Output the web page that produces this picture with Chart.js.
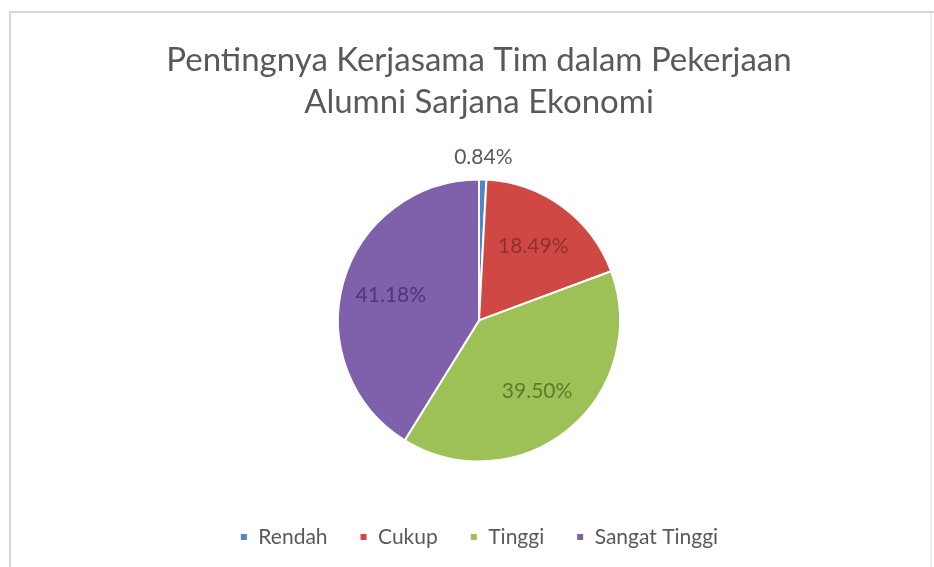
<!DOCTYPE html>
<html>
<head>
<meta charset="utf-8">
<title>Pentingnya Kerjasama Tim</title>
<script src="https://cdn.jsdelivr.net/npm/chart.js@4/dist/chart.umd.min.js"></script>
<style>
    html, body { margin: 0; padding: 0; background: #ffffff; }
    #chartBox { width: 934px; height: 567px; }
</style>
</head>
<body>
<div id="chartBox"><canvas id="teamworkChart" width="934" height="567"></canvas></div>
<script>
// Survey answers, share of respondents in percent
const categories = ['Rendah', 'Cukup', 'Tinggi', 'Sangat Tinggi'];
const shares = [0.84, 18.49, 39.50, 41.18];
const titleLines = ['Pentingnya Kerjasama Tim dalam Pekerjaan', 'Alumni Sarjana Ekonomi'];

const sliceColors = ['#4f85c8', '#d04843', '#9dc157', '#7e60ab'];
const labelColors = ['#595959', '#8e302d', '#5b7b2c', '#4c3875'];

/**
 * Light grey frame around the chart
 */
const framePlugin = {
    id: 'frame',
    beforeDraw(chart) {
        const ctx = chart.ctx;
        ctx.save();
        ctx.fillStyle = '#ffffff';
        ctx.fillRect(0, 0, chart.width, chart.height);
        ctx.lineWidth = 2;
        ctx.strokeStyle = '#d6d6d6';
        ctx.beginPath();
        ctx.moveTo(10, chart.height);
        ctx.lineTo(10, 12);
        ctx.lineTo(chart.width, 12);
        ctx.stroke();
        // right edge is barely visible
        ctx.strokeStyle = '#f0f0f0';
        ctx.beginPath();
        ctx.moveTo(931, 13);
        ctx.lineTo(931, chart.height);
        ctx.stroke();
        ctx.restore();
    }
};

/**
 * Percentage labels on the slices, tiny slices get their label outside
 */
const sliceLabelPlugin = {
    id: 'sliceLabels',
    afterDatasetsDraw(chart) {
        const ctx = chart.ctx;
        const arcs = chart.getDatasetMeta(0).data;
        ctx.save();
        ctx.font = '21px Lato';
        ctx.textAlign = 'center';
        ctx.textBaseline = 'middle';
        arcs.forEach((arc, i) => {
            const {x, y, startAngle, endAngle, outerRadius} = arc.getProps(['x', 'y', 'startAngle', 'endAngle', 'outerRadius'], true);
            const mid = (startAngle + endAngle) / 2;
            const dist = shares[i] < 5 ? outerRadius + 22 : outerRadius * 0.65;
            ctx.fillStyle = labelColors[i];
            ctx.fillText(shares[i].toFixed(2) + '%', x + Math.cos(mid) * dist, y + Math.sin(mid) * dist);
        });
        ctx.restore();
    }
};

const ctx = document.getElementById('teamworkChart');

new Chart(ctx, {
    type: 'pie',
    data: {
        labels: categories,
        datasets: [{
            data: shares,
            backgroundColor: sliceColors,
            borderColor: '#ffffff',
            borderWidth: 2,
            radius: 141
        }]
    },
    options: {
        responsive: false,
        animation: false,
        devicePixelRatio: 1,
        layout: {
            padding: { left: 24, right: 0, top: 0, bottom: 9.5 }
        },
        plugins: {
            title: {
                display: true,
                text: titleLines,
                color: '#595959',
                font: { family: 'Lato', size: 33, weight: 'normal', lineHeight: 1.27 },
                padding: { top: 39, bottom: 23.5 }
            },
            legend: {
                position: 'bottom',
                labels: {
                    color: '#595959',
                    font: { family: 'Lato', size: 21 },
                    boxWidth: 8,
                    boxHeight: 8,
                    padding: 32
                }
            },
            tooltip: { enabled: false }
        }
    },
    plugins: [framePlugin, sliceLabelPlugin]
});
</script>
</body>
</html>
